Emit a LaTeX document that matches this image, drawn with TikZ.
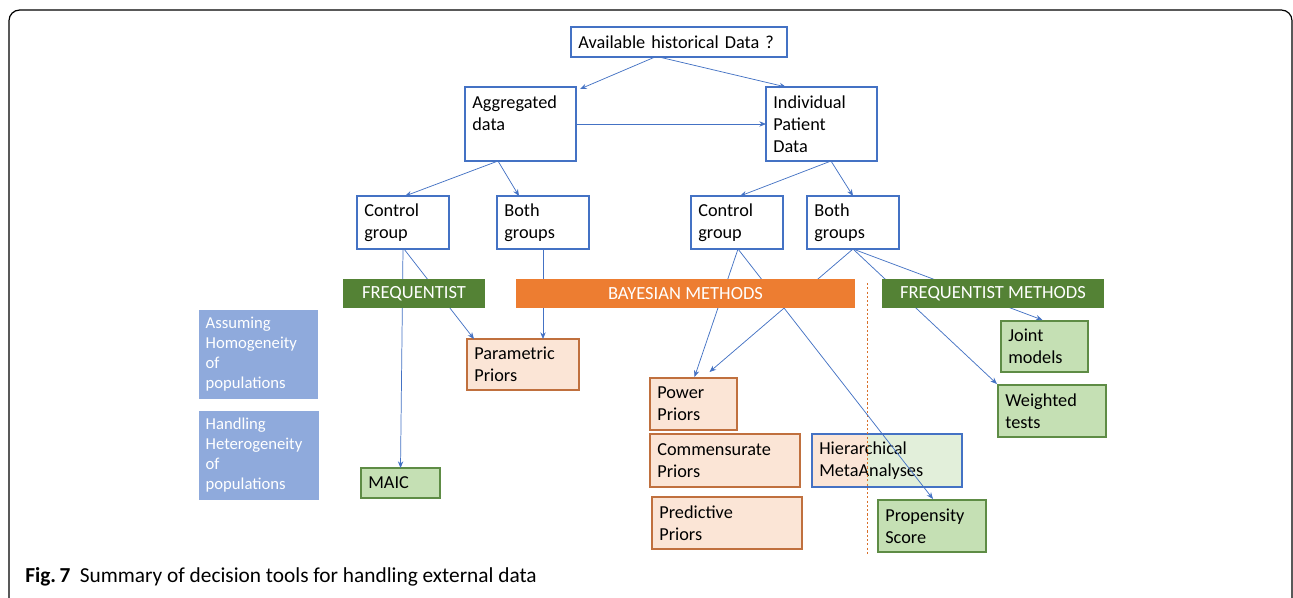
\documentclass[tikz,border=0pt]{standalone}
\usepackage{fontspec}
\setmainfont{Carlito}
\usetikzlibrary{arrows.meta,calc}
\definecolor{lblue}{HTML}{4472C4}
\definecolor{gban}{HTML}{548235}
\definecolor{oban}{HTML}{ED7D31}
\definecolor{bfill}{HTML}{8FAADC}
\definecolor{peach}{HTML}{FBE5D6}
\definecolor{pborder}{HTML}{C0703E}
\definecolor{gfill}{HTML}{C5E0B4}
\definecolor{gborder}{HTML}{5E8C45}
\definecolor{hgreen}{HTML}{E2EFDA}
\definecolor{dashc}{HTML}{D8702A}
\begin{document}
\begin{tikzpicture}[x=0.75pt,y=-0.75pt,
  tb/.style={anchor=north west, inner xsep=5.5pt, inner ysep=0pt, outer sep=0pt, align=left,
     font=\fontsize{13.7}{16.5}\selectfont},
  wbox/.style={tb, draw=lblue, fill=white, line width=0.9pt},
  pbox/.style={tb, draw=pborder, fill=peach, line width=0.9pt},
  gbox/.style={tb, draw=gborder, fill=gfill, line width=0.9pt},
  bbox/.style={tb, inner xsep=5pt, fill=bfill, text=white, font=\fontsize{12.5}{15}\selectfont},
  banner/.style={anchor=north west, inner sep=0pt, outer sep=0pt, text=white,
     minimum height=21.75pt, font=\fontsize{13.9}{15}\selectfont},
  conn/.style={draw=lblue, line width=0.55pt, -{Stealth[length=5pt,width=4pt]}}
]
\useasboundingbox (0,0) rectangle (1293,597);
\fill[white] (0,0) rectangle (1293,597);
% frame
\draw[line width=0.9pt, rounded corners=8pt] (9,610) -- (9,10) -- (1292,10) -- (1292,610);

% top boxes
\node[wbox, text width=151pt, minimum height=22.5pt] (avail) at (571,27) {Available historical Data ?};
\node[wbox, text width=72.25pt, minimum height=55.5pt] (agg) at (465,87) {Aggregated\\data\\\mbox{}};
\node[wbox, text width=72.25pt, minimum height=55.5pt] (ind) at (766,87) {Individual\\Patient\\Data};
\node[wbox, text width=58pt, minimum height=39.75pt] (cl) at (357,196) {Control\\group};
\node[wbox, text width=58pt, minimum height=39.75pt] (bl) at (497,196) {Both\\groups};
\node[wbox, text width=58pt, minimum height=39.75pt] (cr) at (691,196) {Control\\group};
\node[wbox, text width=58pt, minimum height=39.75pt] (br) at (807,196) {Both\\groups};

% side blue boxes
\node[bbox, text width=79.25pt, minimum height=66.75pt] (assume) at (199,310) {Assuming\\Homogeneity\\of\\populations};
\node[bbox, text width=80pt, minimum height=66.75pt] (handle) at (199,411) {Handling\\Heterogeneity\\of\\populations};

% method boxes
\node[pbox, text width=73pt, minimum height=38.25pt] (para) at (467,339) {Parametric\\Priors};
\node[gbox, text width=48.25pt, minimum height=22.5pt] (maic) at (361,468) {MAIC};
\node[pbox, text width=54.25pt, minimum height=39pt] (power) at (650,378) {Power\\Priors};
\node[pbox, text width=101.5pt, minimum height=39.75pt] (comm) at (650,434) {Commensurate\\Priors};
\node[pbox, text width=101.5pt, minimum height=39pt] (pred) at (652,497) {Predictive\\Priors};
\node[tb, draw=lblue, fill=hgreen, line width=0.9pt, text width=101.5pt, minimum height=39.75pt,
  path picture={\fill[peach] (path picture bounding box.south west) rectangle ($(path picture bounding box.north west)+(55,0)$);}]
  (hier) at (812,434) {Hierarchical\\MetaAnalyses};
\node[gbox, text width=70pt, minimum height=39pt] (prop) at (878,500) {Propensity\\Score};
\node[gbox, text width=54.25pt, minimum height=38.25pt] (joint) at (1001,321) {Joint\\models};
\node[gbox, text width=70pt, minimum height=39pt] (wt) at (998,385) {Weighted\\tests};

% dashed separator
\draw[dashc, line width=0.6pt, dash pattern=on 1.6pt off 1.6pt] (867,283) -- (867,556);

% connectors
\draw[conn] ($(avail.south west)+(84,0)$) -- ($(agg.north east)+(4,2)$);
\draw[conn] ($(avail.south west)+(88,0)$) -- ($(ind.north west)+(20,0)$);
\draw[conn] (agg.east) -- (ind.west);
\draw[conn] ($(agg.south west)+(33,0)$) -- ($(cl.north)+(2,0)$);
\draw[conn] ($(agg.south west)+(33,0)$) -- ($(bl.north west)+(22,0)$);
\draw[conn] ($(ind.south west)+(65,0)$) -- ($(cr.north)+(3,0)$);
\draw[conn] ($(ind.south west)+(65,0)$) -- (br.north);
\draw[conn] (cl.south) -- (maic.north);
\draw[conn] ($(cl.south)+(1,0)$) -- ($(para.north west)+(7,0)$);
\draw[conn] (bl.south) -- (bl.south |- para.north);
\draw[conn] ($(cr.south)+(1,0)$) -- ($(power.north)+(1,-1)$);
\draw[conn] (br.south) -- ($(power.north)+(16,-6)$);
\draw[conn] ($(cr.south)+(1,0)$) -- ($(prop.north)+(1,-1)$);
\draw[conn] (br.south) -- ($(wt.north west)+(-1,-1)$);
\draw[conn] (br.south) -- ($(joint.north)+(-2,-1)$);

% banners
\node[banner, fill=gban, minimum width=106.5pt] (freq) at (343,279) {FREQUENTIST};
\node[banner, fill=oban, minimum width=254.25pt] (bayes) at (516,279) {BAYESIAN METHODS};
\node[banner, fill=gban, minimum width=166.5pt] (freqm) at (882,279) {FREQUENTIST METHODS};

% caption
\node[anchor=west, inner sep=0pt, font=\fontsize{16}{18}\selectfont] (cap) at (25,577)
  {\textbf{Fig.\,7}\hspace{7pt}Summary of decision tools for handling external data};
\end{tikzpicture}
\end{document}
